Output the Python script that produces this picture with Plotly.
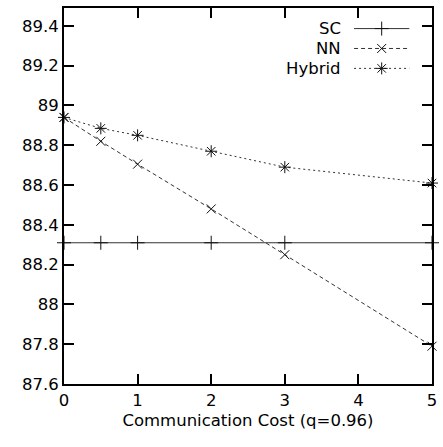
import plotly.graph_objects as go

# ---- data ----
x_vals = [0, 0.5, 1, 2, 3, 5]
sc_vals = [88.31, 88.31, 88.31, 88.31, 88.31, 88.31]
nn_vals = [88.94, 88.82, 88.705, 88.48, 88.25, 87.79]
hybrid_vals = [88.94, 88.885, 88.85, 88.77, 88.69, 88.61]
series_names = ["SC", "NN", "Hybrid"]
x_title = "Communication Cost (q=0.96)"
y_ticks = [87.6, 87.8, 88.0, 88.2, 88.4, 88.6, 88.8, 89.0, 89.2, 89.4]
y_ticklabels = ["87.6", "87.8", "88", "88.2", "88.4", "88.6", "88.8", "89", "89.2", "89.4"]
x_ticks = [0, 1, 2, 3, 4, 5]

W, H = 443, 447
ML, MR, MT, MB = 64, 6, 6, 63
FONT = "DejaVu Sans"
FS = 16.5
X_RANGE = [0, 5]
Y_RANGE = [87.6, 87.6 + (H - MT - MB) / 200]
TICKLEN = 10
PW, PH = W - ML - MR, H - MT - MB


def px_to_x(px):
    return X_RANGE[0] + (px - ML) / PW * (X_RANGE[1] - X_RANGE[0])


def py_to_y(py):
    return Y_RANGE[1] - (py - MT) / PH * (Y_RANGE[1] - Y_RANGE[0])


styles = {
    "SC": dict(dash="solid", symbol="cross-thin", size=10),
    "NN": dict(dash="4px,3px", symbol="x-thin", size=9),
    "Hybrid": dict(dash="2px,3px", symbol="asterisk", size=10),
}
values = {"SC": sc_vals, "NN": nn_vals, "Hybrid": hybrid_vals}

fig = go.Figure()

for name in series_names:
    st = styles[name]
    fig.add_trace(go.Scatter(
        x=x_vals, y=values[name], mode="lines+markers", name=name,
        line=dict(color="#333", width=1, dash=st["dash"]),
        marker=dict(symbol=st["symbol"], size=st["size"], color="#111",
                    line=dict(color="#111", width=1)),
        cliponaxis=False, showlegend=False,
    ))

# ---- gnuplot-style key (text left, sample right); positions in pixels ----
key_text_right = 347
key_line_x0, key_line_x1 = 358, 414
key_rows_y = [26.7, 46.7, 66.7]
for name, yk in zip(series_names, key_rows_y):
    st = styles[name]
    yd = py_to_y(yk)
    fig.add_trace(go.Scatter(
        x=[px_to_x(key_line_x0), px_to_x(key_line_x1)], y=[yd, yd], mode="lines",
        line=dict(color="#333", width=1, dash=st["dash"]),
        showlegend=False, hoverinfo="skip"))
    fig.add_trace(go.Scatter(
        x=[px_to_x((key_line_x0 + key_line_x1) / 2)], y=[yd], mode="markers",
        marker=dict(symbol=st["symbol"], size=st["size"], color="#111",
                    line=dict(color="#111", width=1)),
        showlegend=False, hoverinfo="skip"))
    fig.add_annotation(x=px_to_x(key_text_right), y=yd, xref="x", yref="y",
                       text=name, showarrow=False, xanchor="right", yanchor="middle",
                       font=dict(family=FONT, size=FS, color="black"))

fig.update_layout(
    width=W, height=H,
    margin=dict(l=ML, r=MR, t=MT, b=MB, pad=0),
    paper_bgcolor="white", plot_bgcolor="white",
    font=dict(family=FONT, size=FS, color="black"),
    xaxis=dict(range=X_RANGE, tickvals=x_ticks, ticks="inside", ticklen=TICKLEN,
               tickwidth=2, tickcolor="black", showline=True, linecolor="black",
               linewidth=2, mirror="ticks", showgrid=False, zeroline=False,
               title=dict(text=x_title, standoff=6, font=dict(family=FONT, size=FS))),
    yaxis=dict(range=Y_RANGE, tickvals=y_ticks,
               ticktext=y_ticklabels, ticks="inside", ticklen=TICKLEN, tickwidth=2,
               tickcolor="black", showline=True, linecolor="black", linewidth=2,
               mirror="ticks", showgrid=False, zeroline=False),
)

fig.write_html("out.html")
